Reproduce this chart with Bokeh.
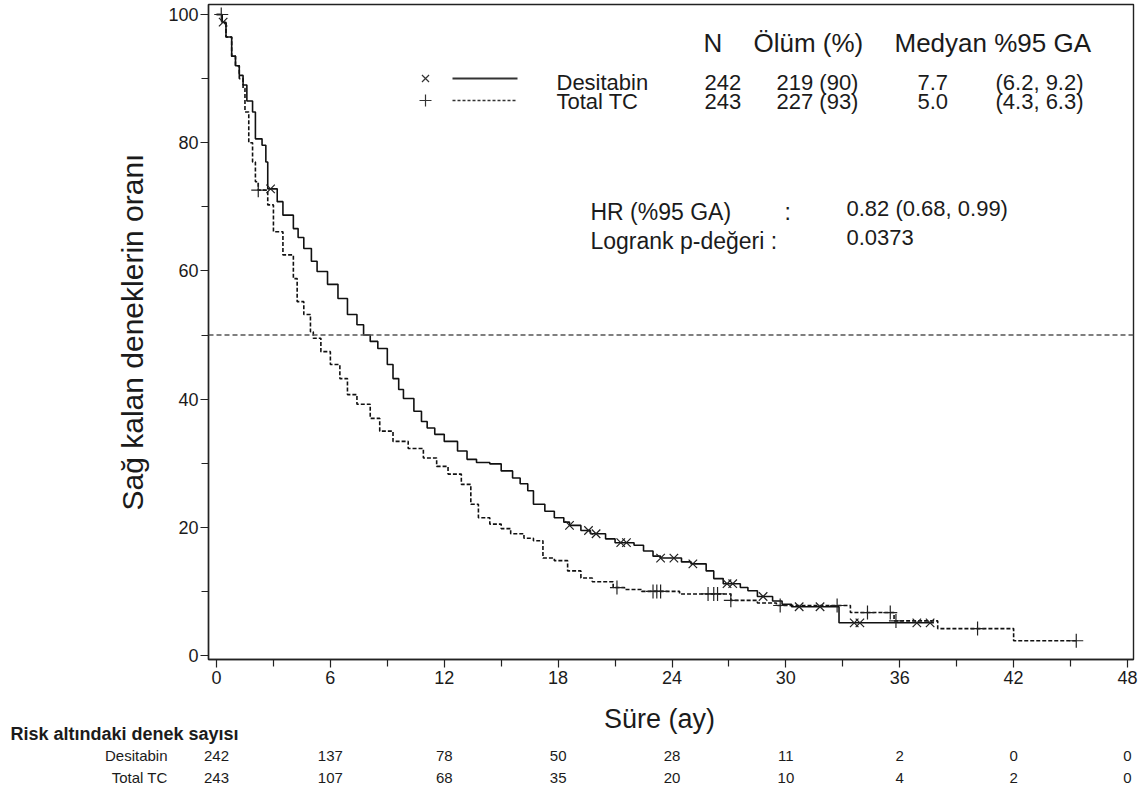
import numpy as np
from bokeh.plotting import figure
from bokeh.layouts import column
from bokeh.models import Range1d, FixedTicker, Span, Label
from bokeh.embed import file_html
from bokeh.resources import INLINE
from bokeh.core.properties import value

# ---------------- data ----------------
desi_t = [0, 0.3, 0.5, 0.8, 1.0, 1.2, 1.4, 1.6, 1.9, 2.05, 2.4, 2.6, 2.7, 3.2, 3.5,
          4.05, 4.3, 4.6, 5.0, 5.3, 5.85, 6.4, 6.9, 7.4, 7.75, 8.1, 8.5, 9.0, 9.3,
          9.6, 9.85, 10.4, 10.8, 11.1, 11.5, 12.0, 12.7, 13.2, 13.7, 14.4, 15.0,
          15.6, 16.0, 16.4, 16.7, 17.3, 17.8, 18.3, 18.6, 19.2, 19.7, 20.5, 21.0,
          22.0, 22.5, 23.0, 23.4, 24.5, 25.0, 25.8, 26.2, 26.7, 27.6, 28.0, 28.5,
          29.3, 29.8, 30.3, 32.8, 37.8]
desi_s = [100, 98.8, 96.5, 93.5, 92.0, 90.5, 89.0, 86.5, 84.8, 80.6, 79.6, 77.0, 72.8,
          70.8, 68.7, 66.6, 65.2, 63.5, 61.5, 59.9, 57.9, 55.7, 53.2, 51.6, 50.0,
          49.0, 47.9, 45.4, 43.2, 41.5, 40.1, 38.1, 36.5, 35.5, 34.5, 33.4, 31.9,
          30.6, 30.1, 29.9, 28.8, 27.7, 26.8, 25.7, 23.6, 22.5, 21.5, 20.8, 20.3,
          19.5, 19.0, 18.2, 17.6, 17.2, 16.3, 15.5, 15.2, 14.6, 14.3, 13.2, 12.0,
          11.2, 10.6, 10.1, 9.2, 8.5, 8.0, 7.6, 5.1, 5.1]

tc_t = [0, 0.3, 0.5, 0.8, 1.0, 1.2, 1.4, 1.5, 1.7, 1.9, 2.05, 2.2, 2.7, 3.0, 3.5,
        4.05, 4.25, 4.6, 4.95, 5.1, 5.5, 6.0, 6.5, 6.9, 7.4, 8.1, 8.6, 9.3, 10.1,
        10.9, 11.6, 12.2, 12.9, 13.4, 13.8, 14.4, 15.0, 15.5, 16.2, 16.7, 17.2,
        17.8, 18.5, 19.2, 19.8, 20.9, 21.5, 22.4, 24.4, 27.1, 28.5, 29.5, 33.4,
        35.7, 38.0, 42.0, 45.3]
tc_s = [100, 98.8, 96.5, 93.5, 92.0, 90.0, 88.5, 84.8, 80.0, 77.0, 73.9, 72.6, 70.3,
        66.1, 62.5, 58.8, 55.2, 53.2, 50.5, 49.5, 47.4, 45.4, 43.2, 40.7, 39.2,
        37.0, 35.0, 33.4, 32.3, 30.8, 29.5, 28.3, 26.7, 23.6, 21.5, 20.5, 19.8,
        19.0, 18.3, 17.9, 15.2, 14.8, 13.2, 12.1, 11.5, 10.6, 10.3, 10.0, 9.6,
        8.6, 8.2, 7.8, 6.7, 5.4, 4.2, 2.3, 2.3]

desi_censor_t = [0.35, 2.85, 18.6, 19.6, 20.0, 21.3, 21.6, 23.4, 24.1, 25.1, 26.9,
                 27.2, 28.8, 30.7, 31.8, 33.6, 33.9, 36.9, 37.6]
tc_censor_t = [0.25, 2.2, 21.1, 23.0, 23.2, 23.4, 25.9, 26.2, 26.4, 27.1, 29.7,
               32.7, 34.3, 35.5, 35.8, 40.1, 45.3]

groups = ["Desitabin", "Total TC"]
group_n = ["242", "243"]
group_deaths = ["219 (90)", "227 (93)"]
group_median = ["7.7", "5.0"]
group_ci = ["(6.2, 9.2)", "(4.3, 6.3)"]
hr_text = "0.82 (0.68, 0.99)"
logrank_p = "0.0373"

risk_times = [0, 6, 12, 18, 24, 30, 36, 42, 48]
risk_desi = [242, 137, 78, 50, 28, 11, 2, 0, 0]
risk_tc = [243, 107, 68, 35, 20, 10, 4, 2, 0]

x_ticks = [0, 6, 12, 18, 24, 30, 36, 42, 48]
x_minor = [3, 9, 15, 21, 27, 33, 39, 45]
y_ticks = [0, 20, 40, 60, 80, 100]
y_minor = [10, 30, 50, 70, 90]

# ---------------- layout helpers (page pixel -> data) ----------------
W = 1142
H = 793
PX0 = 216.0
PXU = (1127.0 - 216.0) / 48.0
PY0 = 655.0
PYU = (655.0 - 14.0) / 100.0

FR_L, FR_R, FR_T, FR_B = 208, 1133, 4, 659
H_MAIN = 700
H_RISK = H - H_MAIN


def dx(px):
    return (px - PX0) / PXU


def dy(py):
    return (PY0 - py) / PYU


def lookup(ts, ss, t):
    i = np.searchsorted(np.array(ts), t, side="right") - 1
    return float(ss[i])


SANS = "Liberation Sans"
INK = "#1b1b1b"

p = figure(width=W, height=H_MAIN, output_backend="svg", toolbar_location=None,
           x_range=Range1d(dx(FR_L), dx(FR_R)), y_range=Range1d(dy(FR_B), dy(FR_T)),
           min_border_left=FR_L, min_border_right=W - FR_R, min_border_top=FR_T,
           min_border_bottom=H_MAIN - FR_B)
p.frame_align = False
p.grid.visible = False
p.outline_line_color = "#222222"
p.outline_line_width = 1.4
p.background_fill_color = "white"
p.border_fill_color = "white"

for ax in (p.xaxis[0], p.yaxis[0]):
    ax.axis_line_color = "#222222"
    ax.axis_line_width = 1.4
    ax.major_tick_line_color = "#222222"
    ax.minor_tick_line_color = "#222222"
    ax.major_tick_line_width = 1.2
    ax.minor_tick_line_width = 1.2
    ax.major_tick_in = 0
    ax.minor_tick_in = 0
    ax.major_tick_out = 8
    ax.minor_tick_out = 7
    ax.major_label_text_font = SANS
    ax.major_label_text_font_size = "18px"
    ax.major_label_text_color = INK
    ax.axis_label_text_font = SANS
    ax.axis_label_text_font_style = "normal"
    ax.axis_label_text_color = INK

p.xaxis.ticker = FixedTicker(ticks=x_ticks, minor_ticks=x_minor)
p.yaxis.ticker = FixedTicker(ticks=y_ticks, minor_ticks=y_minor)
p.xaxis.major_label_standoff = 3
p.yaxis.major_label_standoff = 2
p.yaxis.axis_label = "Sağ kalan deneklerin oranı"
p.yaxis.axis_label_text_font_size = "30px"
p.yaxis.axis_label_standoff = 16

# median reference line
p.add_layout(Span(location=50, dimension="width", line_color="#555555",
                  line_width=1.6, line_dash="5 3"))

# KM curves
p.step(desi_t, desi_s, mode="after", line_color="#111111", line_width=1.6)
p.step(tc_t, tc_s, mode="after", line_color="#111111", line_width=1.6,
       line_dash="4 2")

# censor marks
p.scatter(desi_censor_t, [lookup(desi_t, desi_s, t) for t in desi_censor_t],
          marker="x", size=12, line_color="#222222", line_width=1.2)
p.scatter(tc_censor_t, [lookup(tc_t, tc_s, t) for t in tc_censor_t],
          marker="cross", size=14, line_color="#222222", line_width=1.2)


def lab(px, py, text, size, font=SANS, align="left", style="normal", color=INK):
    p.add_layout(Label(x=dx(px), y=dy(py), text=text, text_font=font,
                       text_font_size=size, text_align=align,
                       text_baseline="middle", text_color=color,
                       text_font_style=style))


# legend table
lab(703, 42, "N", "26px")
lab(753, 42, "Ölüm (%)", "26px")
lab(894, 42, "Medyan %95 GA", "26px")

p.scatter([dx(425)], [dy(78)], marker="x", size=10, line_color="#333333", line_width=1.2)
p.scatter([dx(425)], [dy(100)], marker="cross", size=12, line_color="#333333", line_width=1.2)
p.line([dx(452), dx(517)], [dy(78), dy(78)], line_color="#333333", line_width=2)
p.line([dx(452), dx(515)], [dy(100), dy(100)], line_color="#333333", line_width=1.3,
       line_dash="3 2")

for i, py in enumerate([82, 101]):
    lab(556, py, groups[i], "22px")
    lab(704, py, group_n[i], "22px")
    lab(776, py, group_deaths[i], "22px")
    lab(917, py, group_median[i], "22px")
    lab(995, py, group_ci[i], "22px")

lab(590, 211, "HR (%95 GA)", "23px")
lab(784, 211, ":", "23px")
lab(846, 208, hr_text, "22px")
lab(590, 240, "Logrank p-değeri :", "23px")
lab(846, 237, logrank_p, "22px")

# ---------------- x label + risk table (second figure, y in page pixels) ----------------
r = figure(width=W, height=H_RISK, output_backend="svg", toolbar_location=None,
           x_range=Range1d(dx(0), dx(W)),
           y_range=Range1d(H, H_MAIN),
           x_axis_type=None, y_axis_type=None,
           min_border_left=0, min_border_right=0, min_border_top=0, min_border_bottom=0)
r.frame_align = False
r.grid.visible = False
r.outline_line_color = None
r.background_fill_color = "white"
r.border_fill_color = "white"

r.text([dx(659)], [718], text=["Süre (ay)"], text_font=value(SANS),
       text_font_size="27px", text_align="center", text_baseline="middle",
       text_color=INK)
r.text([dx(10)], [733], text=["Risk altındaki denek sayısı"], text_font=value(SANS),
       text_font_size="18px", text_font_style="bold", text_align="left",
       text_baseline="middle", text_color=INK)
row_y = [755, 777]
r.text([dx(167)] * 2, row_y, text=groups, text_font=value(SANS),
       text_font_size="15px", text_align="right", text_baseline="middle",
       text_color=INK)
r.text(risk_times, [row_y[0]] * len(risk_times), text=[str(v) for v in risk_desi],
       text_font=value(SANS), text_font_size="15px", text_align="center",
       text_baseline="middle", text_color=INK)
r.text(risk_times, [row_y[1]] * len(risk_times), text=[str(v) for v in risk_tc],
       text_font=value(SANS), text_font_size="15px", text_align="center",
       text_baseline="middle", text_color=INK)

open("out.html", "w").write(file_html(column(p, r, spacing=0), INLINE))
